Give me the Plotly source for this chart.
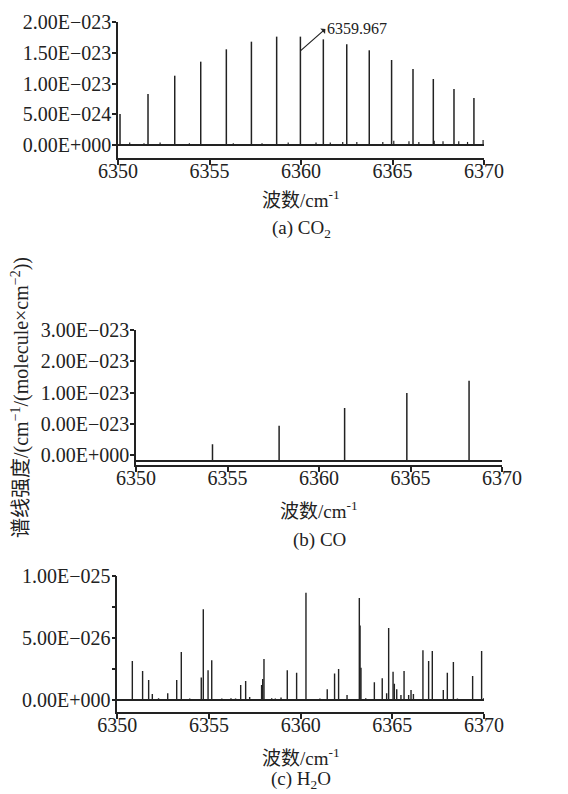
import plotly.graph_objects as go

# page body adds an 8px margin around the figure, so the figure is drawn
# slightly smaller and all pixel positions are shifted by that margin
PAGE_MARGIN = 8
W, H = 568 - PAGE_MARGIN, 794 - PAGE_MARGIN

# ---------------- data ----------------
X_TICKS = [6350, 6355, 6360, 6365, 6370]

# (a) CO2 strong lines
CO2_X = [6350.11, 6351.64, 6353.10, 6354.52, 6355.92, 6357.29, 6358.67, 6359.967,
         6361.22, 6362.50, 6363.73, 6364.95, 6366.12, 6367.23, 6368.36, 6369.45]
CO2_S = [0.504e-23, 0.829e-23, 1.127e-23, 1.355e-23, 1.556e-23, 1.68e-23, 1.762e-23, 1.762e-23,
         1.718e-23, 1.637e-23, 1.54e-23, 1.382e-23, 1.236e-23, 1.073e-23, 0.911e-23, 0.764e-23]
# (a) CO2 weak lines
CO2_WEAK_X = [6350.64, 6351.42, 6352.30, 6353.90, 6356.30, 6357.87, 6359.30, 6360.82,
              6361.60, 6362.28, 6363.05, 6364.47, 6365.07, 6365.90, 6366.44, 6367.28,
              6367.76, 6368.62, 6369.10, 6369.95]
CO2_WEAK_S = [0.04e-23, 0.03e-23, 0.04e-23, 0.03e-23, 0.03e-23, 0.03e-23, 0.04e-23, 0.04e-23,
              0.04e-23, 0.05e-23, 0.05e-23, 0.05e-23, 0.07e-23, 0.06e-23, 0.05e-23, 0.07e-23,
              0.06e-23, 0.06e-23, 0.05e-23, 0.08e-23]
CO2_Y_TICKVALS = [0, 5e-24, 1e-23, 1.5e-23, 2e-23]
CO2_Y_TICKTEXT = ["0.00E+000", "5.00E\u2212024", "1.00E\u2212023", "1.50E\u2212023", "2.00E\u2212023"]
CO2_MARK_X = 6359.967
CO2_MARK_Y = 1.53e-23
CO2_MARK_TEXT = "6359.967"

# (b) CO lines
CO_X = [6354.18, 6357.82, 6361.40, 6364.80, 6368.20]
CO_S = [2.68e-24, 5.68e-24, 8.52e-24, 10.93e-24, 12.9e-24]
CO_Y_TICKVALS = [1.0e-24, 6.0e-24, 11.0e-24, 16.0e-24, 21.0e-24]
CO_Y_TICKTEXT = ["0.00E+000", "0.00E\u2212023", "1.00E\u2212023", "2.00E\u2212023", "3.00E\u2212023"]

# (c) H2O lines (units 1e-26)
H2O_X = [6350.82, 6351.38, 6351.71, 6351.91, 6352.25, 6352.75, 6353.24, 6353.49, 6353.95,
         6354.58, 6354.69, 6354.95, 6355.15, 6355.70, 6356.20, 6356.45, 6356.73, 6357.00,
         6357.22, 6357.87, 6357.93, 6358.00, 6358.42, 6358.62, 6358.93, 6359.27, 6359.78,
         6360.29, 6361.05, 6361.45, 6361.85, 6362.07, 6362.53, 6363.20, 6363.24, 6363.29,
         6363.55, 6364.02, 6364.45, 6364.69, 6364.80, 6365.04, 6365.11, 6365.24, 6365.47,
         6365.64, 6365.89, 6366.02, 6366.15, 6366.67, 6366.98, 6367.18, 6367.78, 6368.00,
         6368.33, 6368.55, 6369.38, 6369.87, 6369.98]
H2O_S = [3.14, 2.33, 1.60, 0.48, 0.15, 0.54, 1.60, 3.86, 0.12,
         1.80, 7.30, 2.40, 3.20, 0.12, 0.15, 0.12, 1.20, 1.53,
         0.25, 1.20, 1.69, 3.30, 0.15, 0.12, 0.20, 2.40, 2.20,
         8.63, 0.12, 0.86, 2.14, 2.50, 0.40, 8.20, 6.00, 2.60,
         0.15, 1.42, 1.74, 0.54, 5.80, 2.28, 1.30, 0.86, 0.40,
         2.33, 0.40, 0.80, 0.48, 4.00, 3.14, 3.94, 0.80, 2.20,
         3.06, 0.12, 1.93, 3.94, 0.15]
H2O_SCALE = 1e-26
H2O_Y_TICKVALS = [0, 2.5e-26, 5e-26, 7.5e-26, 1e-25]
H2O_Y_TICKTEXT = ["0.00E+000", " ", "5.00E\u2212026", " ", "1.00E\u2212025"]

X_TITLE = "波数/cm<sup>-1</sup>"
Y_TITLE = "谱线强度/(cm<sup>\u22121</sup>/(molecule\u00d7cm<sup>\u22122</sup>))"
CAPTIONS = ["(a) CO<sub>2</sub>", "(b) CO", "(c) H<sub>2</sub>O"]

# ---------------- helpers ----------------
INK = "#222222"
FONT = "Liberation Serif, Noto Sans CJK SC, serif"


def px(xp):
    return (xp - PAGE_MARGIN) / W


def py(yp):
    return 1 - (yp - PAGE_MARGIN) / H


def sticks(xs, ys, xa, ya, width=1.4):
    xx, yy = [], []
    for x, y in zip(xs, ys):
        xx += [x, x, None]
        yy += [0, y, None]
    return go.Scatter(x=xx, y=yy, mode="lines", xaxis=xa, yaxis=ya,
                      line=dict(color=INK, width=width), hoverinfo="skip",
                      showlegend=False)


fig = go.Figure()
fig.add_trace(sticks(CO2_X, CO2_S, "x", "y", 1.5))
fig.add_trace(sticks(CO2_WEAK_X, CO2_WEAK_S, "x", "y", 1.2))
fig.add_trace(sticks(CO_X, CO_S, "x2", "y2", 1.5))
fig.add_trace(sticks(H2O_X, [v * H2O_SCALE for v in H2O_S], "x3", "y3", 1.4))

# panel geometry (pixels in the page): left, right, top, bottom
panels = [
    (118, 484, 22, 158, [-2.11e-24, 2.0e-23], CO2_Y_TICKVALS, CO2_Y_TICKTEXT),
    (136, 502, 330.3, 465, [-0.64e-24, 21.0e-24], CO_Y_TICKVALS, CO_Y_TICKTEXT),
    (117.3, 484, 575.7, 712.3, [-0.099e-25, 1.0e-25], H2O_Y_TICKVALS, H2O_Y_TICKTEXT),
]

tickfont = dict(family=FONT, size=20, color=INK)
for i, (l, r, t, b, yr, tv, tt) in enumerate(panels, start=1):
    sx = "" if i == 1 else str(i)
    fig.update_layout(**{
        f"xaxis{sx}": dict(
            domain=[px(l), px(r)], anchor=f"y{sx}", range=[6350, 6370],
            tickvals=X_TICKS, ticktext=[str(v) for v in X_TICKS],
            ticks="outside", ticklen=5, tickwidth=1.5, tickcolor=INK,
            showline=True, linecolor=INK, linewidth=1.5, automargin=False,
            showgrid=False, zeroline=False, tickfont=tickfont,
            ticklabelstandoff=-11,
        ),
        f"yaxis{sx}": dict(
            domain=[py(b), py(t)], anchor=f"x{sx}", range=yr,
            tickvals=tv, ticktext=tt, automargin=False,
            ticks="outside", ticklen=4, tickwidth=1.5, tickcolor=INK,
            showline=True, linecolor=INK, linewidth=1.5,
            showgrid=False, zeroline=True, zerolinecolor=INK, zerolinewidth=1.5,
            tickfont=tickfont, ticklabelstandoff=-3,
        ),
    })

annotations = []
# x titles and captions
for (cx, ty, cy, cap) in [(301, 199, 229, CAPTIONS[0]),
                          (319, 510, 540, CAPTIONS[1]),
                          (301, 757, 780, CAPTIONS[2])]:
    annotations.append(dict(x=px(cx), y=py(ty), xref="paper", yref="paper",
                            xanchor="center", yanchor="middle",
                            text=X_TITLE, showarrow=False,
                            font=dict(family=FONT, size=19, color=INK)))
    annotations.append(dict(x=px(cx), y=py(cy), xref="paper", yref="paper",
                            xanchor="center", yanchor="middle",
                            text=cap, showarrow=False,
                            font=dict(family=FONT, size=19, color=INK)))
# y title
annotations.append(dict(x=px(20), y=py(398), xref="paper", yref="paper",
                        text=Y_TITLE, textangle=-90, showarrow=False,
                        xanchor="center", yanchor="middle",
                        font=dict(family=FONT, size=20, color=INK)))
# marked line
annotations.append(dict(x=CO2_MARK_X, y=CO2_MARK_Y, xref="x", yref="y",
                        text=CO2_MARK_TEXT, showarrow=True, arrowside="start",
                        arrowhead=2, arrowsize=1, arrowwidth=1.2, arrowcolor=INK,
                        ax=25, ay=-22, xanchor="left", yanchor="middle",
                        font=dict(family=FONT, size=16, color=INK)))

fig.update_layout(width=W, height=H, margin=dict(l=0, r=0, t=0, b=0),
                  paper_bgcolor="white", plot_bgcolor="white",
                  annotations=annotations, showlegend=False)

fig.write_html("out.html")
